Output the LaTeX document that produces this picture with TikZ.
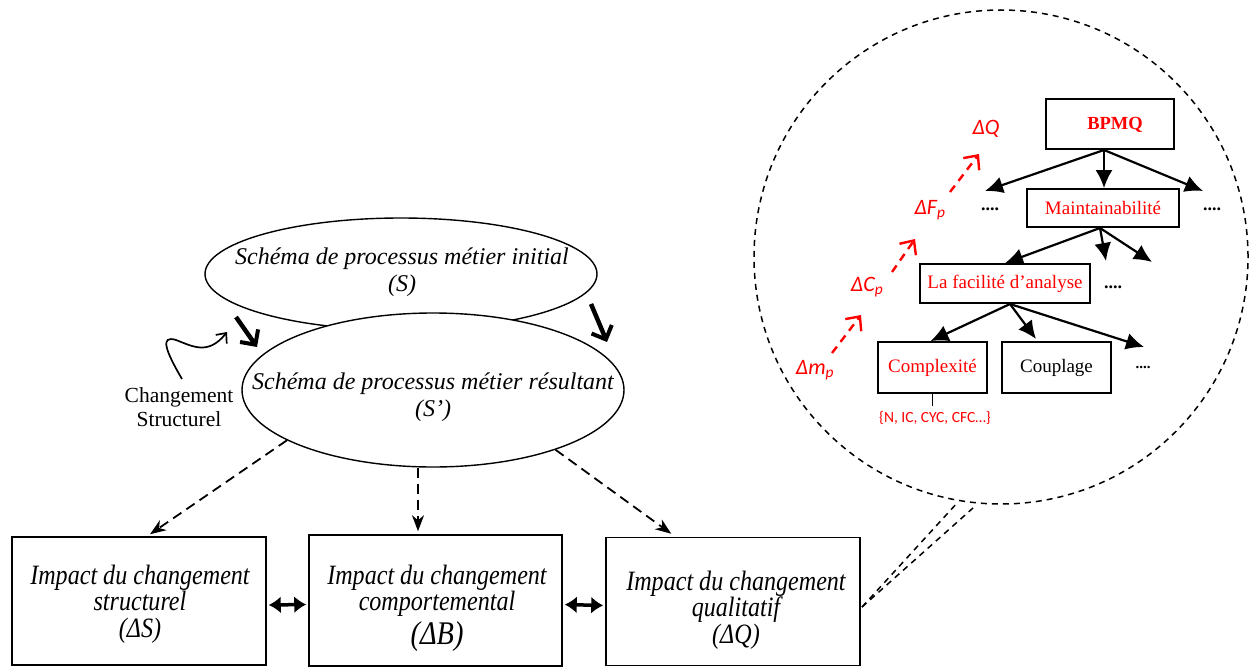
\documentclass[tikz,border=0pt]{standalone}
\usepackage{fontspec}
\setmainfont{Liberation Serif}
\newfontfamily\calfnt{Carlito}
\usetikzlibrary{arrows.meta,shapes.geometric,calc}
\newcommand{\cnd}[1]{\scalebox{0.86}[1]{#1}}
\begin{document}
\begin{tikzpicture}[x=1pt,y=-1pt,
  ell/.style={ellipse, draw, line width=1.4pt, fill=white, inner sep=0},
  ibox/.style={rectangle, draw, line width=1.5pt, inner sep=0, fill=white},
  itxt/.style={align=center, font=\itshape\fontsize{24}{27}\selectfont, inner sep=0},
  btxt/.style={align=center, font=\itshape\fontsize{28}{26.5}\selectfont, inner sep=0},
  tbox/.style={rectangle, draw, line width=1.8pt, inner sep=0, font=\fontsize{19}{21}\selectfont},
  tarr/.style={line width=2.2pt, -{Latex[length=18pt,width=17pt]}},
  darr/.style={dash pattern=on 10pt off 6pt, line width=1.8pt, -{Stealth[length=16pt,width=12pt,inset=5pt]}},
  rarr/.style={red, line width=2.4pt, dash pattern=on 8pt off 6pt, -{Straight Barb[length=11pt,width=20pt,line width=2.4pt]}},
  rlab/.style={red, inner sep=0, font=\calfnt\itshape\fontsize{22}{24}\selectfont},
  dots/.style={inner sep=0, font=\bfseries\fontsize{18}{20}\selectfont},
  barr/.style={line width=4.5pt, -{Straight Barb[length=11pt,width=22pt,line width=4pt]}},
  dbl/.style={line width=3.5pt, {Latex[length=12pt,width=17pt]}-{Latex[length=12pt,width=17pt]}},
  zdash/.style={dash pattern=on 6pt off 5pt, line width=1.5pt}
]
\useasboundingbox (0,0) rectangle (1249,666);

% ---- ellipses
\node[ell, minimum width=392, minimum height=112] (S) at (401,274) {};
\node[itxt] (St) at (402,272) {Schéma de processus métier initial\\(S)};
\node[ell, minimum width=382, minimum height=154] (Sp) at (433,390) {};
\node[itxt] (Spt) at (433,397) {Schéma de processus métier résultant\\(S’)};

% bold arrows S -> S'
\coordinate (ba1) at (236,317);
\coordinate (ba2) at (257,347);
\coordinate (bb1) at (591,304);
\coordinate (bb2) at (607,342);
\draw[barr] (ba1) -- (ba2);
\draw[barr] (bb1) -- (bb2);

% Changement structurel
\node[align=center, inner sep=0, font=\fontsize{21.5}{24}\selectfont] (cs) at (179,407) {Changement\\Structurel};
\coordinate (w1) at (182,379);
\coordinate (w2) at (227,332);
\draw[line width=1.7pt, -{Straight Barb[length=8pt,width=14pt,line width=1.7pt]}]
  (w1) .. controls (165,350) and (160,335) .. (176,340)
       .. controls (192,346) and (208,356) .. (w2);

% ---- impact boxes
\node[ibox, minimum width=254, minimum height=128] (b1) at (139,601) {};
\node[ibox, minimum width=253, minimum height=131] (b2) at (435.5,600.5) {};
\node[ibox, minimum width=254, minimum height=128] (b3) at (733,601.5) {};
\node[btxt] (b1t) at (140,604) {\cnd{Impact du changement}\\\cnd{structurel}\\\cnd{(ΔS)}};
\node[btxt] (b2t) at (437,608) {\cnd{Impact du changement}\\\cnd{comportemental}\\[4pt]\cnd{\fontsize{33}{33}\selectfont (ΔB)}};
\node[btxt] (b3t) at (736,610) {\cnd{Impact du changement}\\\cnd{qualitatif}\\\cnd{(ΔQ)}};

\draw[dbl, shorten <=2pt, shorten >=2pt] ($(b1.east)+(0,4)$) -- ($(b2.west)+(0,4)$);
\draw[dbl, shorten <=2pt, shorten >=2pt] ($(b2.east)+(0,4)$) -- ($(b3.west)+(0,4)$);

% dashed arrows from S'
\draw[darr] (Sp.199) -- ($(b1.north)+(11,-2)$);
\draw[darr] (Sp.south -| 418,0) -- ($(b2.north)+(-17.5,-3)$);
\draw[darr] (Sp.-26) -- ($(b3.north west)+(66,-3)$);

% ---- zoom circle
\node[circle, draw, zdash, minimum size=494, inner sep=0] (zc) at (1001,257) {};
\coordinate (ct) at (862,607);
\coordinate (cu) at (958,502);
\coordinate (cv) at (973,508);
\draw[zdash] (ct) -- (cu);
\draw[zdash] (ct) -- (cv);

% ---- tree
\node[tbox, minimum width=128, minimum height=50] (bp) at (1110,124) {};
\node[red, inner sep=0, font=\bfseries\fontsize{18.5}{20}\selectfont] (bpt) at (1115,125) {BPMQ};
\node[tbox, minimum width=152, minimum height=38, text=red] (mt) at (1103,208) {Maintainabilité};
\node[tbox, minimum width=170, minimum height=39, text=red] (fa) at (1005,283.5) {La facilité d’analyse};
\node[tbox, minimum width=109, minimum height=51, text=red] (cx) at (932.5,367.5) {Complexité};
\node[tbox, minimum width=109, minimum height=51] (cp) at (1056.5,367.5) {Couplage};

\coordinate (t0) at (1104,150);
\coordinate (e1) at (985,191);
\coordinate (e3) at (1203,191);
\draw[tarr] (t0) -- (e1);
\draw[tarr] (t0) -- (t0 |- mt.north);
\draw[tarr] (t0) -- (e3);

\coordinate (t1) at (1100,228);
\coordinate (f2) at (1106,261);
\coordinate (f3) at (1152,262);
\draw[tarr] (t1) -- (fa.north);
\draw[tarr] (t1) -- (f2);
\draw[tarr] (t1) -- (f3);

\coordinate (t2) at (1010,304);
\coordinate (g2) at (1036,339);
\coordinate (g3) at (1144,347);
\draw[tarr] (t2) -- ($(cx.north)+(-2,0)$);
\draw[tarr] (t2) -- (g2);
\draw[tarr] (t2) -- (g3);

\node[dots] (d1) at (990,209) {....};
\node[dots] (d2) at (1212,209) {....};
\node[dots] (d3) at (1113,287) {....};
\node[inner sep=0, font=\bfseries\fontsize{15}{16}\selectfont] (d4) at (1143,367) {....};

\node[red, inner sep=0, font=\calfnt\fontsize{15.5}{17}\selectfont] (mx) at (935,418) {\{N, IC, CYC, CFC…\}};
\draw[line width=1.5pt] (cx.south) -- ($(cx.south)+(0,12)$);

% red dashed arrows and labels
\coordinate (r1a) at (832,353);
\coordinate (r1b) at (861,315);
\coordinate (r2a) at (892,272);
\coordinate (r2b) at (915,239);
\coordinate (r3a) at (950,192);
\coordinate (r3b) at (979,154);
\draw[rarr] (r1a) -- (r1b);
\draw[rarr] (r2a) -- (r2b);
\draw[rarr] (r3a) -- (r3b);
\node[rlab] (lm) at (815,370) {Δm\textsubscript{p}};
\node[rlab] (lc) at (867,287) {ΔC\textsubscript{p}};
\node[rlab] (lf) at (930,210) {ΔF\textsubscript{p}};
\node[rlab] (lq) at (986,129) {ΔQ};
\end{tikzpicture}
\end{document}
